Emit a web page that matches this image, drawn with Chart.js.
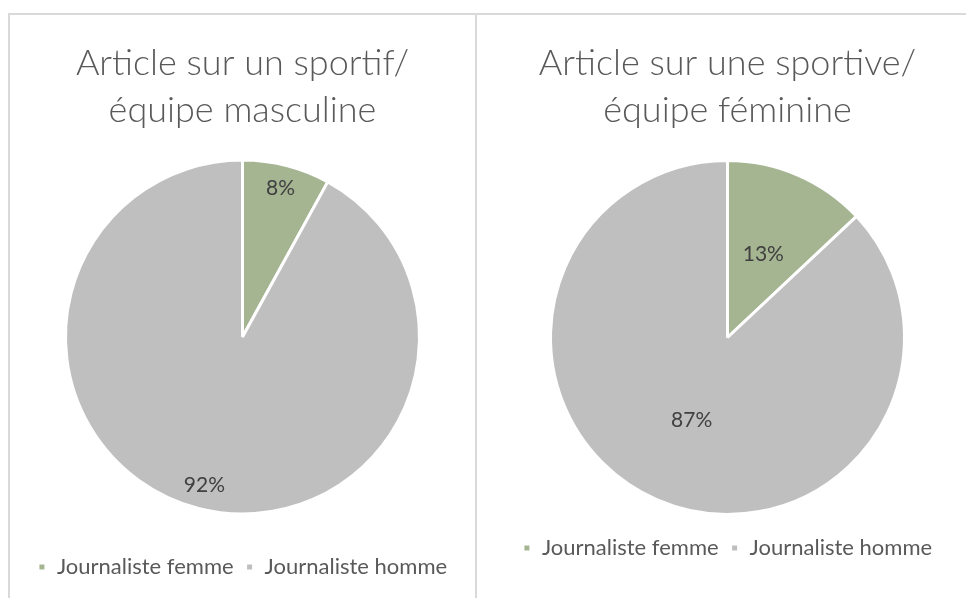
<!DOCTYPE html>
<html>
<head>
<meta charset="utf-8">
<script src="https://cdn.jsdelivr.net/npm/chart.js@4.4.0/dist/chart.umd.min.js"></script>
<style>
  html, body { margin: 0; padding: 0; background: #fff; overflow: hidden; width: 966px; height: 598px; }
  .panel { position: absolute; top: 13px; height: 585px; border-top: 2px solid #d9d9d9; border-left: 2px solid #d9d9d9; box-sizing: border-box; }
  #p1 { left: 8px; width: 467px; }
  #p2 { left: 475px; width: 503px; }
  .panel canvas { display: block; }
</style>
</head>
<body>
<div class="panel" id="p1"><canvas id="c1" width="465" height="583"></canvas></div>
<div class="panel" id="p2"><canvas id="c2" width="501" height="583"></canvas></div>
<script>
// data
const categories = ['Journaliste femme', 'Journaliste homme'];
const titleMen = ['Article sur un sportif/', 'équipe masculine'];
const titleWomen = ['Article sur une sportive/', 'équipe féminine'];
const menValues = [8, 92];
const womenValues = [13, 87];
const colors = ['#a5b592', '#bfbfbf'];

// percentage labels inside the slices
const sliceLabels = {
  id: 'sliceLabels',
  afterDatasetsDraw(chart, args, opts) {
    const ctx = chart.ctx;
    const meta = chart.getDatasetMeta(0);
    const vals = chart.data.datasets[0].data;
    const total = vals.reduce((a, b) => a + b, 0);
    ctx.save();
    ctx.font = '21px Lato';
    ctx.fillStyle = '#404040';
    ctx.textAlign = 'center';
    ctx.textBaseline = 'middle';
    meta.data.forEach((arc, i) => {
      const mid = (arc.startAngle + arc.endAngle) / 2;
      const r = arc.outerRadius * opts.position;
      const x = arc.x + Math.cos(mid) * r;
      const y = arc.y + Math.sin(mid) * r;
      ctx.fillText(Math.round(vals[i] / total * 100) + '%', x, y);
    });
    ctx.restore();
  }
};

function makePie(id, title, values, labelPos, titleBottom, bottomPad) {
  return new Chart(document.getElementById(id), {
    type: 'pie',
    data: {
      labels: categories,
      datasets: [{
        data: values,
        backgroundColor: colors,
        borderColor: '#ffffff',
        borderWidth: 3,
        radius: 177
      }]
    },
    plugins: [sliceLabels],
    options: {
      responsive: false,
      animation: false,
      layout: { padding: { bottom: bottomPad } },
      plugins: {
        title: {
          display: true,
          text: title,
          color: '#595959',
          font: { family: 'Lato', size: 36, weight: 300, lineHeight: 1.305 },
          padding: { top: 24.5, bottom: titleBottom }
        },
        legend: {
          position: 'bottom',
          labels: {
            color: '#595959',
            font: { family: 'Lato', size: 22 },
            boxWidth: 8,
            boxHeight: 8,
            padding: 12
          }
        },
        tooltip: { enabled: false },
        sliceLabels: { position: labelPos }
      }
    }
  });
}

makePie('c1', titleMen, menValues, 0.865, -3.5, 10);
makePie('c2', titleWomen, womenValues, 0.51, 16.5, 29);
</script>
</body>
</html>
